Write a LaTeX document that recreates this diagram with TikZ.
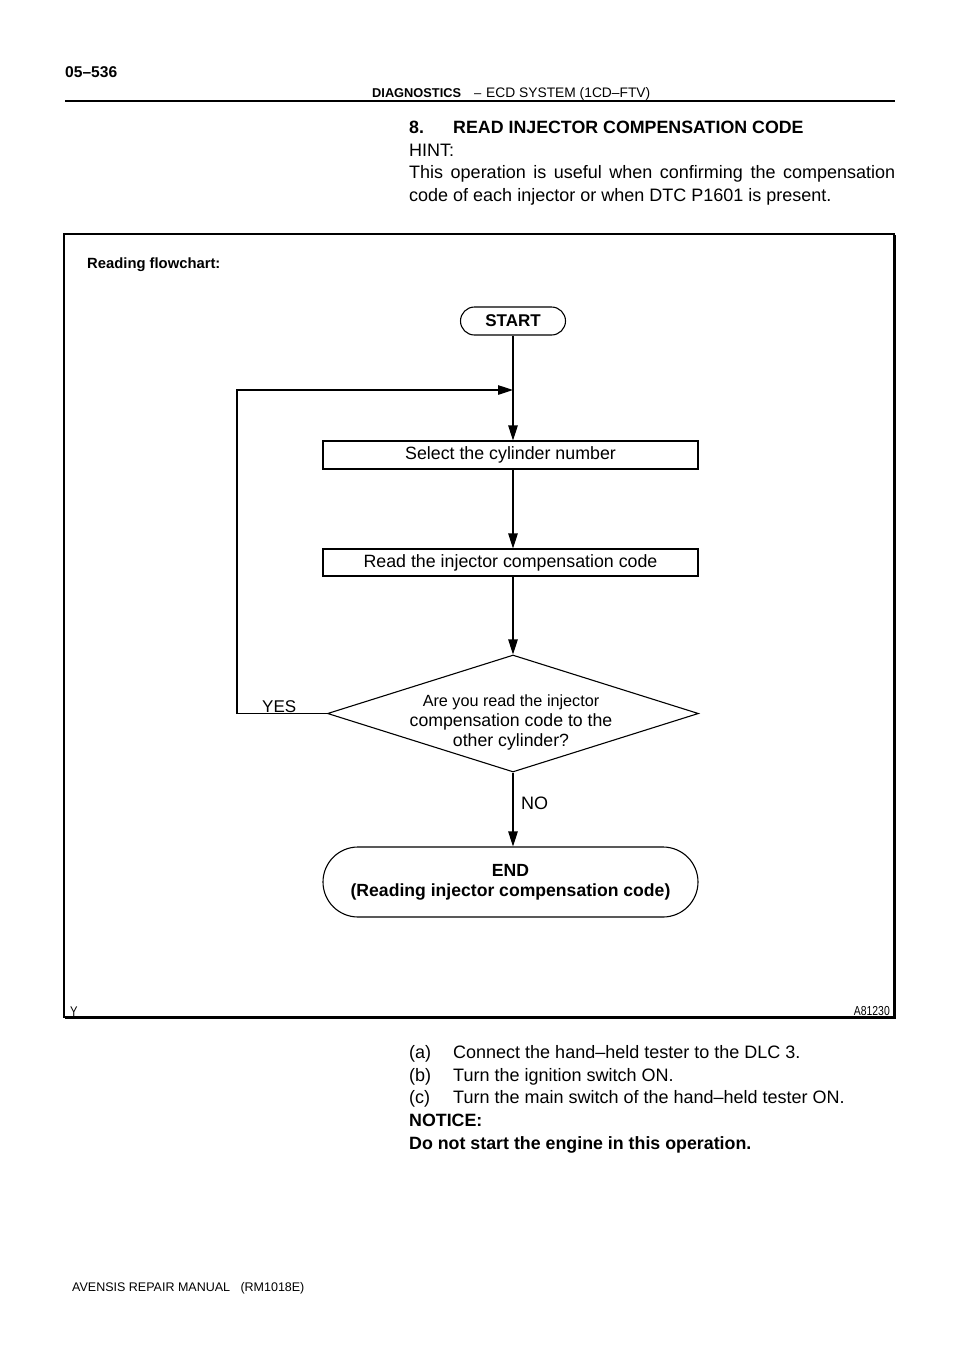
\documentclass[tikz,border=0pt]{standalone}
\usepackage{fontspec}
\setmainfont{Liberation Sans}
\newfontfamily\narrowfont{Liberation Sans}[FakeStretch=0.8]
\usetikzlibrary{arrows.meta,shapes.geometric}

\begin{document}
\begin{tikzpicture}[
   x=1pt, y=-1pt,
   txt/.style={anchor=base west, inner sep=0pt, font=\fontsize{18}{22}\selectfont},
   btxt/.style={anchor=base west, inner sep=0pt, font=\fontsize{17.8}{22}\selectfont\bfseries},
   small/.style={anchor=base west, inner sep=0pt, font=\fontsize{12.5}{14}\selectfont},
   box/.style={draw, line width=1.1pt, minimum width=375pt, minimum height=28pt, inner sep=0pt, font=\fontsize{17.8}{20}\selectfont},
   term/.style={draw, line width=1.1pt, inner sep=0pt, align=center, font=\fontsize{17.6}{20}\selectfont\bfseries},
   dec/.style={draw, diamond, line width=1.1pt, minimum width=371pt, minimum height=117pt, inner sep=0pt},
   arrow/.style={-{Triangle[length=15pt,width=9.5pt]}, line width=1.1pt},
   line/.style={-, line width=1.1pt}
]
\useasboundingbox (0,0) rectangle (960,1358);

% page header
\node[anchor=base west, inner sep=0pt, font=\fontsize{15.6}{18}\selectfont\bfseries] (page) at (65,77.5) {05--536};
\node[anchor=base west, inner sep=0pt, font=\fontsize{12.8}{14}\selectfont\bfseries] (sect) at (372,97.5) {DIAGNOSTICS};
\node[anchor=base west, inner sep=0pt, font=\fontsize{13}{14}\selectfont] (dash) at (474,97.5) {--};
\node[anchor=base west, inner sep=0pt, font=\fontsize{13.8}{14}\selectfont] (sys) at (486,97.5) {ECD SYSTEM (1CD--FTV)};
\draw[line width=2pt] (65,101) -- (895,101);

% heading and hint
\node[btxt] (num) at (409,133.5) {8.};
\node[btxt] (title) at (453,133.5) {READ INJECTOR COMPENSATION CODE};
\node[txt] (hint) at (409,156) {HINT:};
\node[txt] (hint1) at (409,178.5) {\hbox to 486pt{This operation is useful when confirming the compensation}};
\node[txt] (hint2) at (409,201) {code of each injector or when DTC P1601 is present.};

% frame
\draw[line width=1.2pt] (64,234) rectangle (894,1017);
\draw[line width=2.2pt] (65,1017.5) -- (894.5,1017.5) -- (894.5,235);
\node[anchor=base west, inner sep=0pt, font=\fontsize{14.8}{16}\selectfont\bfseries] (cap) at (87,268) {Reading flowchart:};
\node[anchor=base west, inner sep=0pt, font=\narrowfont\fontsize{14}{16}\selectfont] (ymark) at (70,1016) {Y};
\node[anchor=base east, inner sep=0pt, font=\narrowfont\fontsize{13}{16}\selectfont] (fig) at (890,1015.5) {A81230};

% flowchart
\node[term, rounded corners=14pt, minimum width=105pt, minimum height=28pt, font=\fontsize{17}{20}\selectfont\bfseries] (start) at (513,321) {START};
\node[box] (sel) at (510.5,455) {Select the cylinder number};
\node[box, minimum height=27pt] (read) at (510.5,562.5) {Read the injector compensation code};
\node[dec] (ask) at (513,713.5) {};
\node[align=center, inner sep=0pt, font=\fontsize{17.7}{20}\selectfont] (asktxt) at (511,722) {{\fontsize{16.2}{20}\selectfont Are you read the injector}\\compensation code to the\\other cylinder?};
\node[term, rounded corners=35pt, minimum width=375pt, minimum height=70pt] (endn) at (510.5,882) {END\\(Reading injector compensation code)};
\coordinate (loop) at (237,390);

\draw[arrow] (start.south) -- (start.south |- sel.north);
\draw[arrow] (start.south |- sel.south) -- (start.south |- read.north);
\draw[arrow] (start.south |- read.south) -- (ask.north);
\draw[arrow] (ask.south) -- (ask.south |- endn.north);
\draw[arrow] (ask.west) -| (loop) -- (loop -| start.south);

\node[anchor=base west, inner sep=0pt, font=\fontsize{17}{20}\selectfont] (yes) at (262,712) {YES};
\node[anchor=base west, inner sep=0pt, font=\fontsize{18}{20}\selectfont] (no) at (521,809) {NO};

% steps below the figure
\node[txt] (la) at (409,1058.5) {(a)};
\node[txt] (sa) at (453,1058.5) {Connect the hand--held tester to the DLC 3.};
\node[txt] (lb) at (409,1081) {(b)};
\node[txt] (sb) at (453,1081) {Turn the ignition switch ON.};
\node[txt] (lc) at (409,1103.5) {(c)};
\node[txt] (sc) at (453,1103.5) {Turn the main switch of the hand--held tester ON.};
\node[btxt] (note) at (409,1126) {NOTICE:};
\node[btxt] (notetxt) at (409,1149) {Do not start the engine in this operation.};

% page footer
\node[small] (foot) at (72,1291.5) {AVENSIS REPAIR MANUAL\ \ \ (RM1018E)};

\end{tikzpicture}
\end{document}
